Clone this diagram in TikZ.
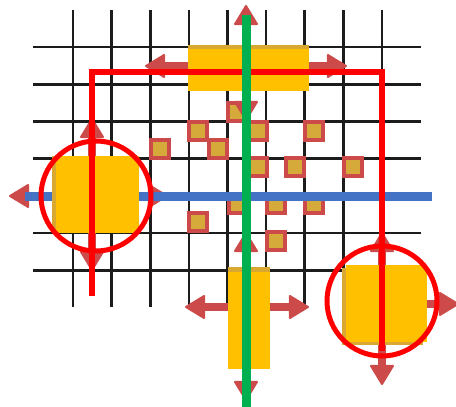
\documentclass[tikz,border=0pt]{standalone}
\usepackage{tikz}
\usetikzlibrary{arrows.meta,shadows}
\definecolor{boxyellow}{HTML}{FFC000}
\definecolor{boxgold}{HTML}{D9A830}
\definecolor{movered}{RGB}{205,74,74}
\definecolor{dotgold}{HTML}{D6AA3A}
\definecolor{pathblue}{HTML}{4472C4}
\definecolor{pathgreen}{HTML}{00B050}
\definecolor{gridblack}{HTML}{1C1C1C}
\begin{document}
\begin{tikzpicture}[x=1pt,y=-1pt,
	move/.style={movered,line width=8pt,-{Triangle[width=25pt,length=21pt,line width=2pt,round]}},
	box/.style={fill=boxyellow,inner sep=0pt},
	dot/.style={draw=movered,line width=3.5pt,fill=dotgold,minimum size=18pt,inner sep=0pt},
	ring/.style={draw=red,line width=5pt,circle,minimum size=110pt,inner sep=0pt}]
			\useasboundingbox (0,0) rectangle (456,407);
			
			\coordinate (top) at (248,68);
			\coordinate (left) at (97,194);
			\coordinate (right) at (386,303);
			\coordinate (bottom) at (249,320);
			
			\foreach \gx in {0,...,8}
				\draw [gridblack,line width=2.6pt] (73+38.6*\gx,10) -- (73+38.6*\gx,307);
			\foreach \gy in {0,...,6}
				\draw [gridblack,line width=2.6pt] (33,47+37.2*\gy) -- (421,47+37.2*\gy);
			
			\foreach \px/\py [count=\i] in {237/112,198/131,258/131,314/131,160/149,218/149,258/167,295/167,353/167,238/204,276/204,314/204,198/222,276/241}
				\node[dot] (d\i) at (\px,\py) {};
			
			\coordinate (topW) at (145,66);
			\coordinate (topE) at (347,66);
			\coordinate (topN) at (246,5);
			\coordinate (topS) at (246,121);
			\draw [move] (top |- topW) -- (topW);
			\draw [move] (top |- topE) -- (topE);
			\draw [move] (top -| topN) -- (topN);
			\draw [move] (top -| topS) -- (topS);
			
			\coordinate (leftN) at (92,118);
			\coordinate (leftS) at (92,271);
			\coordinate (leftW) at (9,196);
			\coordinate (leftE) at (168,196);
			\draw [move] (left -| leftN) -- (leftN);
			\draw [move] (left -| leftS) -- (leftS);
			\draw [move] (left |- leftW) -- (leftW);
			\draw [move] (left |- leftE) -- (leftE);
			
			\coordinate (rightN) at (382,232);
			\coordinate (rightS) at (382,385);
			\coordinate (rightE) at (459,304);
			\draw [move] (right -| rightN) -- (rightN);
			\draw [move] (right -| rightS) -- (rightS);
			\draw [move] (right |- rightE) -- (rightE);
			
			\coordinate (botN) at (246,232);
			\coordinate (botS) at (246,401);
			\coordinate (botW) at (185,307);
			\coordinate (botE) at (309,307);
			\draw [move] (bottom -| botN) -- (botN);
			\draw [move] (bottom -| botS) -- (botS);
			\draw [move] (bottom |- botW) -- (botW);
			\draw [move] (bottom |- botE) -- (botE);
			
			\draw [pathblue,line width=9pt] (25,196) -- (432,196);
			
			\node[box,minimum width=121pt,minimum height=42pt,general shadow={fill=boxgold,shadow yshift=4pt}] (topbox) at ([yshift=-2pt]top) {};
			\node[box,minimum width=83pt,minimum height=77pt,general shadow={fill=boxgold,shadow xshift=-4pt}] (leftbox) at (left) {};
			\node[box,minimum width=81pt,minimum height=77pt,general shadow={fill=boxgold,shadow xshift=-4pt,shadow yshift=-3pt}] (rightbox) at (right) {};
			\node[box,minimum width=42pt,minimum height=97pt,general shadow={fill=boxgold,shadow yshift=5pt}] (bottombox) at (bottom) {};
			
			\draw [red,line width=6pt] (92,296) -- (92,72) -- (382,72) -- (382,351);
			\draw [pathgreen,line width=9pt] (246,15) -- (246,407);
			
			\node[ring] (lring) at (96,196) {};
			\node[ring] (rring) at (382,301) {};
\end{tikzpicture}
\end{document}
